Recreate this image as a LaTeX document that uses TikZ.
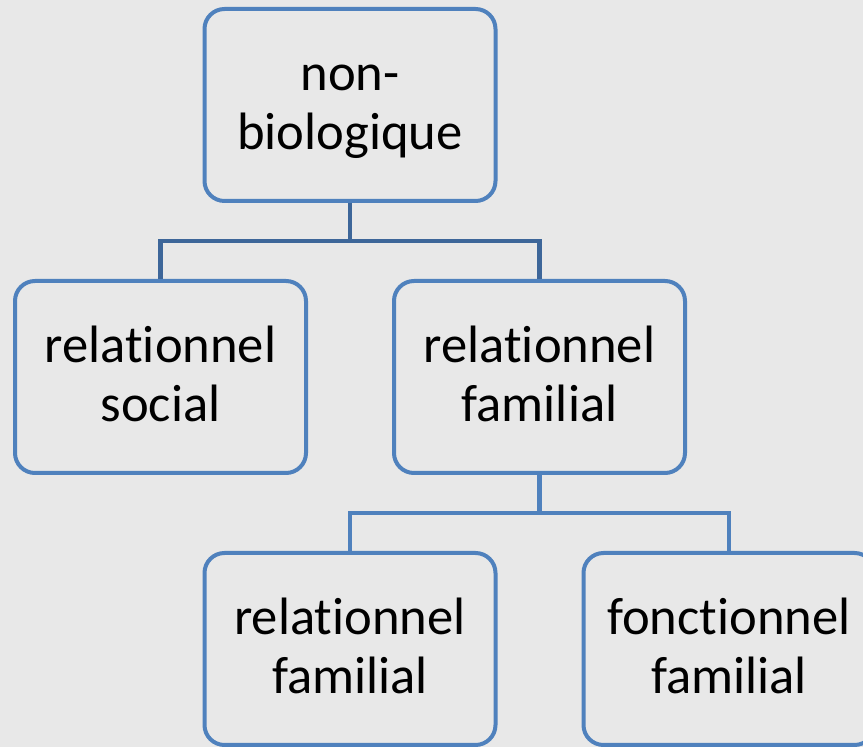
\documentclass[tikz,border=0pt]{standalone}
\usepackage{fontspec}
\setmainfont{Carlito}[Ligatures=NoCommon]
\usetikzlibrary{trees}
\definecolor{boxblue}{HTML}{4F81BD}
\definecolor{forkblue}{HTML}{3D6699}
\definecolor{paper}{HTML}{E8E8E8}
% same strut on every line, so that all boxes set their text alike
\newcommand{\ls}{\rule[-6.5pt]{0pt}{28.5pt}}

\begin{document}
\begin{tikzpicture}[x=0.5pt, y=0.5pt,
    every node/.style={draw=boxblue, line width=2pt, rounded corners=10pt,
      minimum width=145.5pt, minimum height=96pt, align=center,
      font=\fontsize{26.3}{29.5}\selectfont},
    edge from parent fork down,
    level distance=136pt,
    level 1/.style={sibling distance=189.5pt,
      edge from parent/.style={draw=forkblue, line width=2.2pt}},
    level 2/.style={sibling distance=189.5pt,
      edge from parent/.style={draw=boxblue, line width=2.2pt}}]
  \fill[paper] (0,0) rectangle (863,-747);
  \useasboundingbox (0,0) rectangle (863,-747);
  \node (nonbio) at (350,-105) {\ls non-\\\ls biologique}
    child {node (social) {\ls relationnel\\\ls social}}
    child {node (familial) {\ls relationnel\\\ls familial}
      child {node (relfam) {\ls relationnel\\\ls familial}}
      child {node (foncfam) {\ls fonctionnel\\\ls familial}}
    };
\end{tikzpicture}
\end{document}
